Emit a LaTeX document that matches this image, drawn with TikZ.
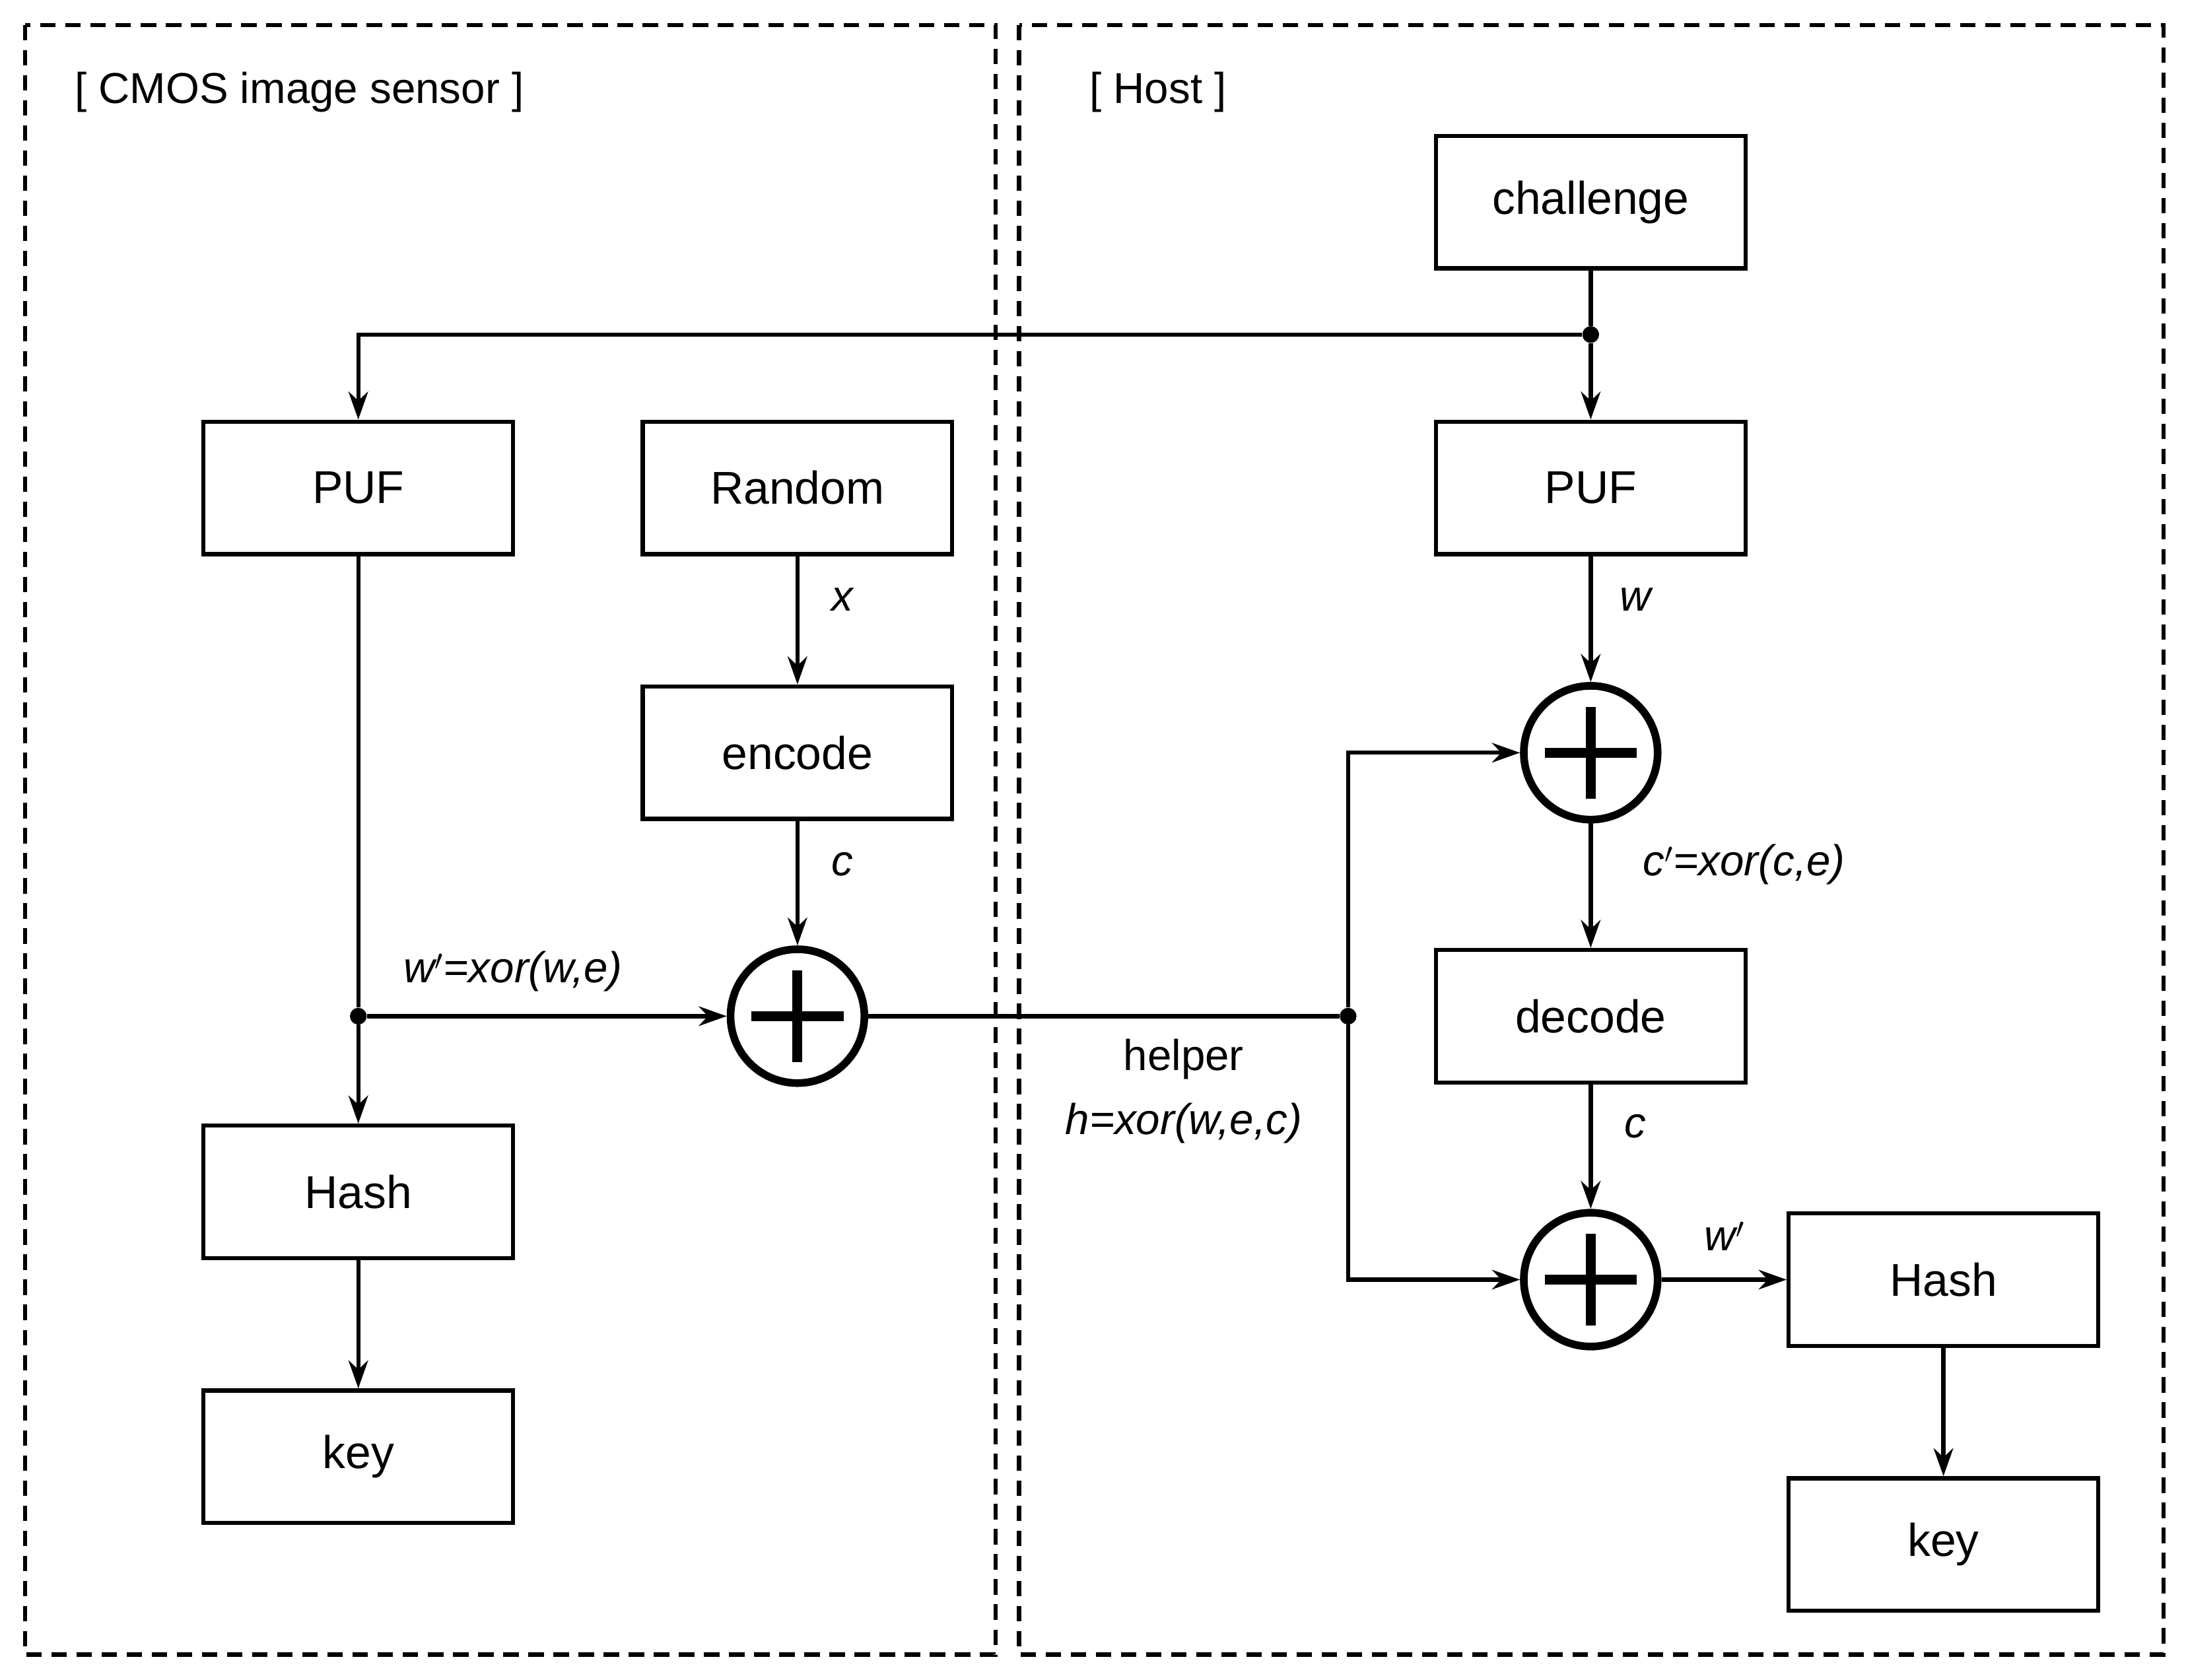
\documentclass[tikz,border=0pt]{standalone}
\usepackage{fontspec}
\setmainfont{Liberation Sans}
\usetikzlibrary{arrows.meta}
\begin{document}
\begin{tikzpicture}[x=1pt,y=-1pt,
  box/.style={draw,line width=3pt,minimum width=222pt,minimum height=95pt,inner sep=0pt,font=\fontsize{33}{40}\selectfont},
  xo/.style={draw,circle,line width=5.5pt,minimum size=96pt,inner sep=0pt},
  ln/.style={line width=3pt},
  ar/.style={ln,-{Stealth[length=20pt,width=14pt]}},
  dot/.style={circle,fill,inner sep=0pt,minimum size=12pt},
  lab/.style={font=\fontsize{31}{36}\selectfont\itshape},
  txt/.style={font=\fontsize{31}{36}\selectfont}]
\useasboundingbox (0,0) rectangle (1568,1205);
\draw[line width=3pt,dash pattern=on 11pt off 7pt] (18,18) rectangle (714,1187);
\draw[line width=3pt,dash pattern=on 11pt off 7pt] (731,18) rectangle (1552,1187);
\node[txt,anchor=west] (t1) at (50,66) {[ CMOS image sensor ]};
\node[txt,anchor=west] (t2) at (778,66) {[ Host ]};
\node[box] (ch) at (1141,145) {challenge};
\node[box] (pufr) at (1141,350) {PUF};
\node[box] (pufl) at (257,350) {PUF};
\node[box] (rnd) at (572,350) {Random};
\node[box] (enc) at (572,540) {encode};
\node[box] (hl) at (257,855) {Hash};
\node[box] (kl) at (257,1045) {key};
\node[box] (dec) at (1141,729) {decode};
\node[box] (hr) at (1394,918) {Hash};
\node[box] (kr) at (1394,1108) {key};
\foreach \n/\x/\y in {xl/572/729,xt/1141/540,xb/1141/918}{
  \node[xo] (\n) at (\x,\y) {};
  \draw[line width=7pt] (\x-33,\y) -- (\x+33,\y) (\x,\y-33) -- (\x,\y+33);}
\node[dot] (d1) at (1141,240) {};
\node[dot] (d2) at (257,729) {};
\node[dot] (d3) at (967,729) {};
\coordinate (c1) at (257,240);
\coordinate (c2) at (967,540);
\coordinate (c3) at (967,918);
\draw[ln] (ch) -- (d1);
\draw[ar] (d1) -- (pufr);
\draw[ar] (d1) -- (c1) -- (pufl);
\draw[ln] (pufl) -- (d2);
\draw[ar] (d2) -- (hl);
\draw[ar] (hl) -- (kl);
\draw[ar] (d2) -- (xl);
\draw[ar] (rnd) -- (enc);
\draw[ar] (enc) -- (xl);
\draw[ln] (xl) -- (d3);
\draw[ar] (d3) -- (c2) -- (xt);
\draw[ar] (d3) -- (c3) -- (xb);
\draw[ar] (pufr) -- (xt);
\draw[ar] (xt) -- (dec);
\draw[ar] (dec) -- (xb);
\draw[ar] (xb) -- (hr);
\draw[ar] (hr) -- (kr);
\node[lab] (lx) at (604,430) {x};
\node[lab] (lc) at (604,620) {c};
\node[lab] (lw) at (1173,430) {w};
\node[lab] (lcp) at (1251,620) {c$'$=xor(c,e)};
\node[lab] (lc2) at (1173,808) {c};
\node[lab] (lwp) at (1237,887) {w$'$};
\node[lab] (lwx) at (368,697) {w$'$=xor(w,e)};
\node[txt] (hp) at (849,760) {helper};
\node[lab] (hx) at (849,806) {h=xor(w,e,c)};
\end{tikzpicture}
\end{document}
